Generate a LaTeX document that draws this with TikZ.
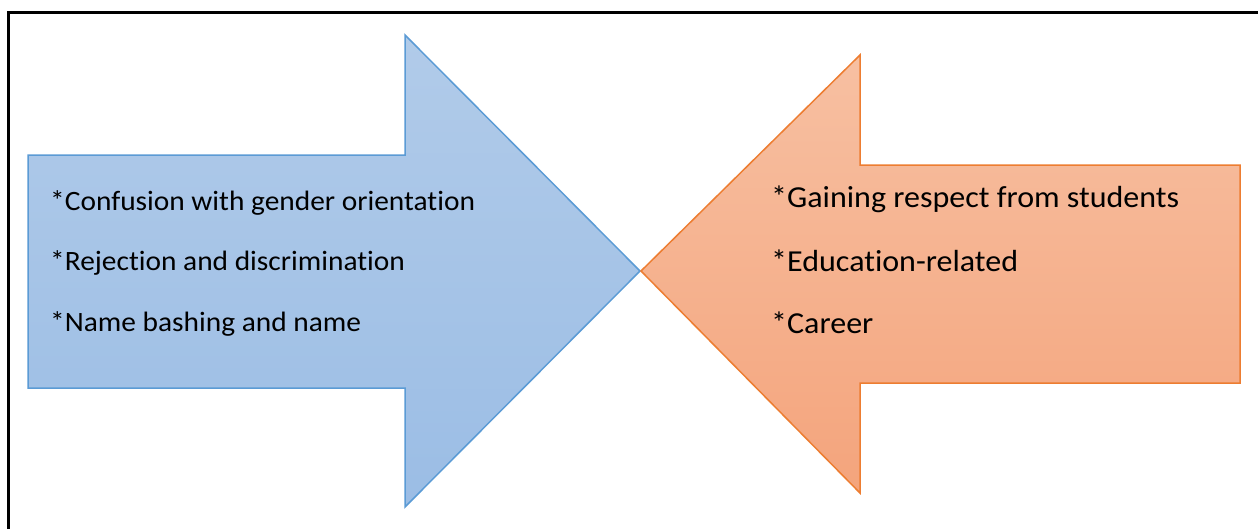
\documentclass[tikz,border=0pt]{standalone}
\usepackage{fontspec}
\setmainfont{Carlito}[Ligatures=NoCommon]
\definecolor{blueedge}{HTML}{5B9BD5}
\definecolor{bluetop}{HTML}{B1CBE9}
\definecolor{bluebot}{HTML}{9BBDE5}
\definecolor{orangeedge}{HTML}{ED7D31}
\definecolor{orangetop}{HTML}{F7C0A2}
\definecolor{orangebot}{HTML}{F4A47C}
\begin{document}
\begin{tikzpicture}[x=1pt,y=-1pt,
  bluearrow/.style={draw=blueedge,line width=1.5pt,top color=bluetop,bottom color=bluebot,line join=miter},
  orangearrow/.style={draw=orangeedge,line width=1.5pt,top color=orangetop,bottom color=orangebot,line join=miter},
  lefttext/.style={anchor=base west,inner sep=0pt,xscale=1.05,font=\fontsize{28}{33}\selectfont},
  righttext/.style={anchor=base west,inner sep=0pt,xscale=1.05,font=\fontsize{30.5}{36}\selectfont}]
\useasboundingbox (0,0) rectangle (1258,528);
\fill[white] (0,0) rectangle (1258,528);
\draw[line width=3pt] (8.5,540) -- (8.5,12) -- (1270,12);
\draw[bluearrow] (28,155) -- (405,155) -- (405,35) -- (640,271) -- (405,507) -- (405,388) -- (28,388) -- cycle;
\draw[orangearrow] (641,271) -- (860,55) -- (860,165) -- (1240,165) -- (1240,383) -- (860,383) -- (860,493) -- cycle;
\node[lefttext] (l1) at (50,210) {*Confusion with gender orientation};
\node[lefttext] (l2) at (50,270) {*Rejection and discrimination};
\node[lefttext] (l3) at (50,331) {*Name bashing and name};
\node[righttext] (r1) at (771,207) {*Gaining respect from students};
\node[righttext] (r2) at (771,271) {*Education-related};
\node[righttext] (r3) at (771,333) {*Career};
\end{tikzpicture}
\end{document}
